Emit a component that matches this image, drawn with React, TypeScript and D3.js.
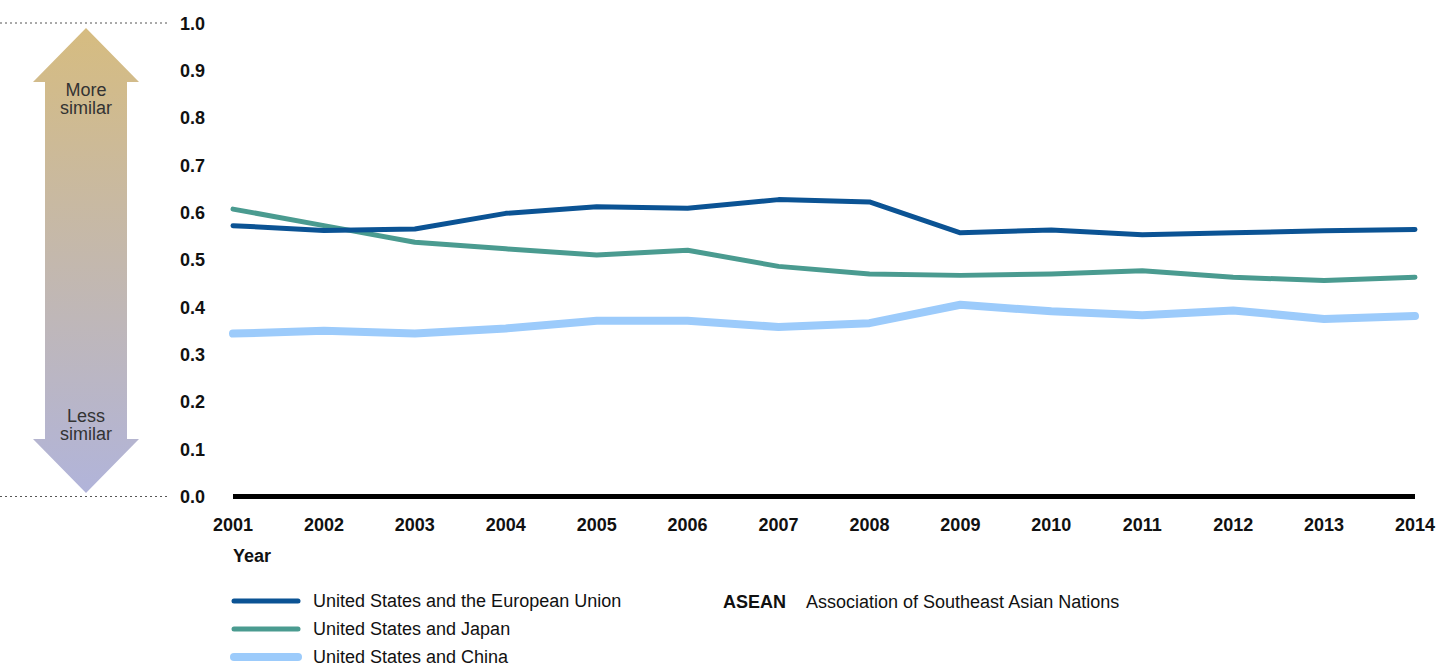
import { useEffect, useRef } from "react";
import * as d3 from "d3";

const years = [2001, 2002, 2003, 2004, 2005, 2006, 2007, 2008, 2009, 2010, 2011, 2012, 2013, 2014];
const euValues = [0.572, 0.562, 0.565, 0.598, 0.612, 0.609, 0.627, 0.622, 0.557, 0.563, 0.553, 0.557, 0.561, 0.564];
const japanValues = [0.607, 0.572, 0.537, 0.523, 0.510, 0.520, 0.486, 0.470, 0.467, 0.470, 0.477, 0.463, 0.456, 0.463];
const chinaValues = [0.344, 0.350, 0.344, 0.355, 0.371, 0.371, 0.358, 0.366, 0.405, 0.391, 0.383, 0.393, 0.375, 0.381];
const yTicks = [0, 0.1, 0.2, 0.3, 0.4, 0.5, 0.6, 0.7, 0.8, 0.9, 1.0];
const seriesNames = [
  "United States and the European Union",
  "United States and Japan",
  "United States and China",
];

export default function App() {
  const ref = useRef<SVGSVGElement>(null);

  useEffect(() => {
    if (!ref.current) return;
    const svg = d3.select(ref.current);
    svg.selectAll("*").remove();

    const font = "'Liberation Sans', Arial, sans-serif";
    const x = d3.scaleLinear().domain([2001, 2014]).range([233, 1415]);
    const y = d3.scaleLinear().domain([0, 1]).range([496.5, 23]);

    const series = [
      { name: seriesNames[0], values: euValues, color: "#0B5394", width: 5 },
      { name: seriesNames[1], values: japanValues, color: "#4A9B90", width: 5 },
      { name: seriesNames[2], values: chinaValues, color: "#9CCBFB", width: 8 },
    ];

    // gradient arrow
    const defs = svg.append("defs");
    const grad = defs.append("linearGradient")
      .attr("id", "arrowGrad")
      .attr("x1", 0).attr("y1", 0).attr("x2", 0).attr("y2", 1);
    grad.append("stop").attr("offset", "0%").attr("stop-color", "#D6BC80");
    grad.append("stop").attr("offset", "100%").attr("stop-color", "#B1B4DA");

    const top = 28, bottom = 493, headH = 54, cx = 86, shaft = 41, head = 53;
    const arrow = [
      [cx, top], [cx + head, top + headH], [cx + shaft, top + headH],
      [cx + shaft, bottom - headH], [cx + head, bottom - headH], [cx, bottom],
      [cx - head, bottom - headH], [cx - shaft, bottom - headH],
      [cx - shaft, top + headH], [cx - head, top + headH],
    ];
    svg.append("polygon")
      .attr("points", arrow.map(p => p.join(",")).join(" "))
      .attr("fill", "url(#arrowGrad)");

    const arrowText = [["More", 95.5], ["similar", 113.5], ["Less", 421.5], ["similar", 440]];
    svg.selectAll(".arrow-label")
      .data(arrowText)
      .enter()
      .append("text")
      .attr("x", cx)
      .attr("y", d => d[1] as number)
      .attr("text-anchor", "middle")
      .attr("font-family", font)
      .attr("font-size", "18px")
      .attr("fill", "#333")
      .text(d => d[0] as string);

    // dotted guide lines
    [1, 0].forEach(v => {
      svg.append("line")
        .attr("x1", 0).attr("x2", 170)
        .attr("y1", y(v)).attr("y2", y(v))
        .attr("stroke", "#555")
        .attr("stroke-width", 1)
        .attr("stroke-dasharray", "2,3");
    });

    // y tick labels
    svg.selectAll(".ytick")
      .data(yTicks)
      .enter()
      .append("text")
      .attr("x", 205)
      .attr("y", d => y(d) + 6.5)
      .attr("text-anchor", "end")
      .attr("font-family", font)
      .attr("font-weight", "bold")
      .attr("font-size", "18px")
      .attr("fill", "#111")
      .text(d => d.toFixed(1));

    // x tick labels
    svg.selectAll(".xtick")
      .data(years)
      .enter()
      .append("text")
      .attr("x", d => x(d))
      .attr("y", 530.5)
      .attr("text-anchor", "middle")
      .attr("font-family", font)
      .attr("font-weight", "bold")
      .attr("font-size", "18px")
      .attr("fill", "#111")
      .text(d => String(d));

    svg.append("text")
      .attr("x", 233)
      .attr("y", 561.5)
      .attr("font-family", font)
      .attr("font-weight", "bold")
      .attr("font-size", "18px")
      .attr("fill", "#111")
      .text("Year");

    // baseline
    svg.append("line")
      .attr("x1", x(2001)).attr("x2", x(2014))
      .attr("y1", y(0)).attr("y2", y(0))
      .attr("stroke", "#000")
      .attr("stroke-width", 5);

    // lines
    const line = d3.line<number>()
      .x((_, i) => x(years[i]))
      .y(d => y(d));

    series.slice().reverse().forEach(s => {
      svg.append("path")
        .datum(s.values)
        .attr("d", line)
        .attr("fill", "none")
        .attr("stroke", s.color)
        .attr("stroke-width", s.width)
        .attr("stroke-linecap", "round")
        .attr("stroke-linejoin", "round");
    });

    // legend
    series.forEach((s, i) => {
      const ly = 601 + i * 28;
      svg.append("line")
        .attr("x1", 234).attr("x2", 298)
        .attr("y1", ly).attr("y2", ly)
        .attr("stroke", s.color)
        .attr("stroke-width", s.width)
        .attr("stroke-linecap", "round");
      svg.append("text")
        .attr("x", 313)
        .attr("y", ly + 6)
        .attr("font-family", font)
        .attr("font-size", "18px")
        .attr("fill", "#111")
        .text(s.name);
    });

    svg.append("text")
      .attr("x", 723)
      .attr("y", 607.5)
      .attr("font-family", font)
      .attr("font-weight", "bold")
      .attr("font-size", "18px")
      .attr("fill", "#111")
      .text("ASEAN");
    svg.append("text")
      .attr("x", 806)
      .attr("y", 607.5)
      .attr("font-family", font)
      .attr("font-size", "18px")
      .attr("fill", "#111")
      .text("Association of Southeast Asian Nations");
  }, []);

  return (
    <svg
      ref={ref}
      width={1437}
      height={666}
      style={{ position: "absolute", left: 0, top: 0, background: "#fff" }}
    />
  );
}
